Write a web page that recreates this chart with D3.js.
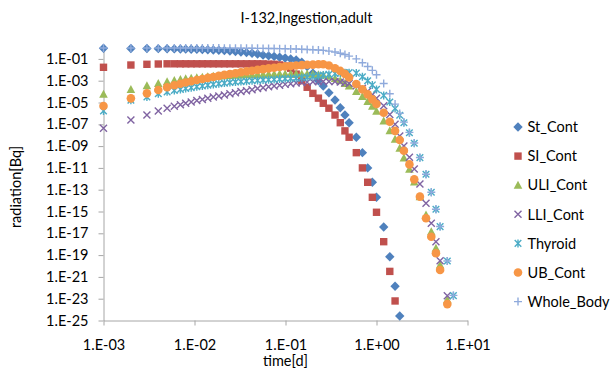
<!DOCTYPE html>
<html><head><meta charset="utf-8">
<script src="https://cdn.jsdelivr.net/npm/d3@7"></script>
<style>
body{margin:0;background:#fff}
svg{display:block}
text{font-family:Lato,"Open Sans",sans-serif;fill:#000}
</style>
</head><body>
<svg id="c" width="613" height="378"></svg>
<script>
const time = [0.001,0.002,0.003,0.004,0.005,0.006,0.007,0.008,
 0.0092,0.0106,0.0122,0.014,0.0161,0.0185,0.0213,0.0245,0.0282,0.0324,
 0.0373,0.0429,0.0493,0.0567,0.0652,0.075,0.0862,0.0992,0.114,0.131,
 0.151,0.173,0.2,0.23,0.26,
 0.3,0.35,0.4,0.45,0.5,0.6,0.7,0.8,0.9,1.0,
 1.2,1.4,1.6,1.8,2.0,2.3,2.6,3.0,3.5,4.0,4.5,5,6,7];
const stCont = [0.95,0.91,0.89,0.87,0.85,0.83,0.81,0.79,
 0.78,0.76,0.72,0.69,0.66,0.62,0.58,0.52,0.48,0.43,
 0.38,0.33,0.28,0.22,0.19,0.17,0.14,0.12,0.1,7.9e-2,
 5.0e-2,2.0e-2,5.0e-3,1.0e-3,3.2e-4,
 7.9e-5,1.7e-5,3.3e-6,7.1e-7,1.4e-7,6.5e-9,2.5e-10,1.0e-11,4.8e-13,2.0e-14,
 3.8e-17,7.1e-20,1.4e-22,2.6e-25,null,null,null,null,null,null,null,null,null,null];
const siCont = [1.7e-2,2.75e-2,3.2e-2,3.4e-2,3.55e-2,3.55e-2,3.55e-2,3.55e-2,
 3.55e-2,3.55e-2,3.55e-2,3.55e-2,3.55e-2,3.55e-2,3.55e-2,3.55e-2,3.55e-2,3.55e-2,
 3.55e-2,3.55e-2,3.55e-2,3.5e-2,3.3e-2,3.2e-2,2.8e-2,2.2e-2,1.4e-2,4.0e-3,
 1.0e-3,2.5e-4,6.9e-5,2.5e-5,8.5e-6,
 3.0e-6,7.1e-7,1.4e-7,2.5e-8,6.5e-9,2.5e-10,1.0e-11,4.8e-13,2.0e-14,8.5e-16,
 1.7e-18,3.2e-21,6.2e-24,null,null,null,null,null,null,null,null,null,null,null];
const uliCont = [5.6e-5,1.6e-4,3.5e-4,5.6e-4,7.9e-4,1.05e-3,1.26e-3,1.5e-3,
 1.7e-3,1.9e-3,2.1e-3,2.3e-3,2.5e-3,2.7e-3,2.9e-3,3.0e-3,3.2e-3,3.3e-3,
 3.5e-3,3.6e-3,3.7e-3,3.8e-3,3.9e-3,4.0e-3,4.1e-3,4.2e-3,4.2e-3,4.2e-3,
 4.2e-3,4.1e-3,3.9e-3,3.6e-3,3.2e-3,
 2.5e-3,1.6e-3,1.0e-3,5.6e-4,3.2e-4,1.0e-4,3.5e-5,1.26e-5,4.5e-6,1.6e-6,
 2.0e-7,2.5e-8,4.2e-9,6.3e-10,7.9e-11,7.4e-12,5.0e-13,2.3e-14,4.8e-16,1.4e-17,4.2e-19,1.26e-20,7.9e-24,null];
const lliCont = [4.3e-8,2.5e-7,7.1e-7,1.7e-6,3.0e-6,4.5e-6,6.3e-6,8.5e-6,
 1.1e-5,1.5e-5,1.9e-5,2.5e-5,3.2e-5,4.0e-5,5.0e-5,6.3e-5,7.9e-5,1.0e-4,
 1.2e-4,1.5e-4,1.9e-4,2.3e-4,2.75e-4,3.3e-4,3.9e-4,4.6e-4,5.2e-4,6.0e-4,
 6.8e-4,7.4e-4,7.9e-4,8.3e-4,8.5e-4,
 8.5e-4,8.3e-4,7.6e-4,6.6e-4,5.5e-4,3.5e-4,2.0e-4,1.05e-4,5.2e-5,2.5e-5,
 5.0e-6,7.9e-7,1.0e-7,8.5e-9,1.0e-9,9.3e-11,7.9e-12,3.3e-13,5.6e-15,8.3e-17,1.7e-18,3.1e-20,1.9e-23,null];
const thyroid = [1.7e-6,1.6e-5,3.2e-5,6.3e-5,9.5e-5,1.26e-4,1.6e-4,1.9e-4,
 2.3e-4,2.75e-4,3.3e-4,3.9e-4,4.6e-4,5.2e-4,6.0e-4,6.8e-4,7.6e-4,8.3e-4,
 9.1e-4,1.0e-3,1.07e-3,1.15e-3,1.23e-3,1.3e-3,1.4e-3,1.5e-3,1.6e-3,1.7e-3,
 1.9e-3,2.1e-3,2.4e-3,2.8e-3,3.3e-3,
 3.8e-3,4.5e-3,5.0e-3,5.4e-3,5.5e-3,5.0e-3,2.3e-3,1.0e-3,4.1e-4,1.6e-4,
 4.5e-5,1.1e-5,2.8e-6,6.8e-7,1.4e-7,1.7e-8,1.8e-9,8.7e-11,2.6e-12,5.8e-14,1.6e-15,4.1e-17,2.9e-20,1.9e-23];
const ubCont = [4.8e-6,2.4e-5,6.9e-5,1.4e-4,2.5e-4,3.8e-4,5.2e-4,6.9e-4,
 8.9e-4,1.15e-3,1.45e-3,1.8e-3,2.2e-3,2.75e-3,3.4e-3,4.1e-3,4.9e-3,5.9e-3,
 7.1e-3,8.3e-3,9.8e-3,1.15e-2,1.35e-2,1.55e-2,1.8e-2,2.0e-2,2.2e-2,2.45e-2,
 2.7e-2,2.9e-2,3.0e-2,3.2e-2,3.2e-2,
 2.5e-2,1.4e-2,7.9e-3,4.2e-3,2.0e-3,5.0e-4,1.6e-4,5.6e-5,1.95e-5,7.2e-6,
 1.15e-6,1.7e-7,2.5e-8,3.6e-9,3.8e-10,2.1e-11,8.9e-13,2.3e-14,2.4e-16,4.9e-18,1.5e-19,4.3e-21,3.2e-24,null];
const wholeBody = [1.0,1.0,1.0,1.0,1.0,1.0,1.0,1.0,
 1.0,1.0,0.99,0.99,0.98,0.98,0.97,0.97,0.96,0.96,
 0.95,0.94,0.93,0.92,0.9,0.89,0.87,0.85,0.83,0.8,
 0.77,0.74,0.7,0.65,0.6,
 0.52,0.43,0.33,0.25,0.18,0.1,4.5e-2,2.0e-2,8.9e-3,3.5e-3,
 5.6e-4,6.3e-5,7.1e-6,1.0e-6,1.6e-7,1.8e-8,1.9e-9,8.9e-11,2.6e-12,5.9e-14,1.6e-15,4.2e-17,2.9e-20,2.0e-23];

const seriesNames = ["St_Cont","SI_Cont","ULI_Cont","LLI_Cont","Thyroid","UB_Cont","Whole_Body"];
const seriesValues = [stCont, siCont, uliCont, lliCont, thyroid, ubCont, wholeBody];
const seriesColors = ["#4F81BD","#C0504D","#9BBB59","#8064A2","#4BACC6","#F79646","#8FAADC"];
const seriesMarkers = ["diamond","square","triangle","x","star","circle","plus"];
const xTickValues = [1e-3,1e-2,1e-1,1e0,1e1];
const xTickLabels = ["1.E-03","1.E-02","1.E-01","1.E+00","1.E+01"];
const yTickValues = [1e-25,1e-23,1e-21,1e-19,1e-17,1e-15,1e-13,1e-11,1e-9,1e-7,1e-5,1e-3,1e-1];
const yTickLabels = ["1.E-25","1.E-23","1.E-21","1.E-19","1.E-17","1.E-15","1.E-13","1.E-11","1.E-09","1.E-07","1.E-05","1.E-03","1.E-01"];
const chartTitle = "I-132,Ingestion,adult";
const xTitle = "time[d]";
const yTitle = "radiation[Bq]";

const svg = d3.select("#c");
const plot = {left:103.5, right:467.5, top:48, bottom:320.5};
const x = d3.scaleLog().domain([1e-3,1e1]).range([plot.left, plot.right]);
const y = d3.scaleLog().domain([1e-25,1e0]).range([plot.bottom, plot.top]);
const axisColor = "#A6A6A6";
const fontSize = 14.5;

const gx = svg.append("g").attr("transform",`translate(0,${plot.bottom})`)
  .call(d3.axisBottom(x).tickValues(xTickValues).tickFormat((d,i)=>xTickLabels[i]).tickSize(5).tickSizeOuter(0).tickPadding(14.5));
const gy = svg.append("g").attr("transform",`translate(${plot.left},0)`)
  .call(d3.axisLeft(y).tickValues(yTickValues).tickFormat((d,i)=>yTickLabels[i]).tickSize(5).tickSizeOuter(0).tickPadding(10));
[gx,gy].forEach(g=>{
  g.select(".domain").attr("stroke",axisColor).attr("stroke-width",1);
  g.selectAll(".tick line").attr("stroke",axisColor);
  g.selectAll(".tick text").attr("font-size",fontSize).attr("font-family","Lato").attr("fill","#000");
});

function markerPath(type){
  switch(type){
    case "diamond": return "M0,-4.7L4.7,0L0,4.7L-4.7,0Z";
    case "square": return "M-3.7,-3.7H3.7V3.7H-3.7Z";
    case "triangle": return "M0,-4.5L4.3,3.5H-4.3Z";
    case "x": return "M-3.5,-3.5L3.5,3.5M-3.5,3.5L3.5,-3.5";
    case "star": return "M-3.3,-3.3L3.3,3.3M-3.3,3.3L3.3,-3.3M0,-4L0,4";
    case "plus": return "M-4,0H4M0,-4V4";
    default: return null;
  }
}
function drawMarker(g, type, color){
  if(type==="circle"){
    g.append("circle").attr("r",4.3).attr("fill",color);
  } else if(type==="x"||type==="star"||type==="plus"){
    g.append("path").attr("d",markerPath(type)).attr("fill","none").attr("stroke",color).attr("stroke-width",1.4);
  } else {
    g.append("path").attr("d",markerPath(type)).attr("fill",color);
  }
}

const marks = svg.append("g");
seriesValues.forEach((vals,si)=>{
  const g = marks.append("g");
  vals.forEach((v,i)=>{
    if(v==null) return;
    const yy = y(v);
    if(yy>plot.bottom+0.5 || yy<plot.top-6) return;
    const m = g.append("g").attr("transform",`translate(${x(time[i])},${yy})`);
    drawMarker(m, seriesMarkers[si], seriesColors[si]);
  });
});

const leg = svg.append("g");
seriesNames.forEach((n,i)=>{
  const cy = 127 + i*29.1;
  const m = leg.append("g").attr("transform",`translate(518,${cy})`);
  drawMarker(m, seriesMarkers[i], seriesColors[i]);
  leg.append("text").attr("x",527.5).attr("y",cy).attr("dy","0.36em").attr("font-size",fontSize).text(n);
});

svg.append("text").attr("x",306.5).attr("y",23).attr("text-anchor","middle").attr("font-size",fontSize).text(chartTitle);
svg.append("text").attr("x",285.5).attr("y",366).attr("text-anchor","middle").attr("font-size",fontSize).text(xTitle);
svg.append("text").attr("transform","translate(21,187) rotate(-90)").attr("text-anchor","middle").attr("font-size",fontSize).text(yTitle);
</script>
</body></html>
